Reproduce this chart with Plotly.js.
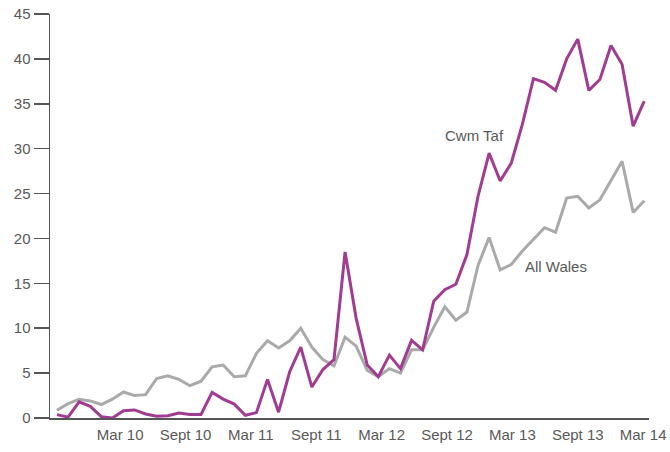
<!DOCTYPE html>
<html>
<head>
<meta charset="utf-8">
<script src="https://cdn.plot.ly/plotly-3.0.1.min.js"></script>
<style>html,body{margin:0;padding:0;background:#fff;}#chart{width:670px;height:452px;}</style>
</head>
<body>
<div id="chart"></div>
<script>
// Monthly values, Oct 2009 - Mar 2014
const months = ["Oct 09","Nov 09","Dec 09","Jan 10","Feb 10","Mar 10","Apr 10","May 10","Jun 10","Jul 10","Aug 10","Sep 10",
  "Oct 10","Nov 10","Dec 10","Jan 11","Feb 11","Mar 11","Apr 11","May 11","Jun 11","Jul 11","Aug 11","Sep 11",
  "Oct 11","Nov 11","Dec 11","Jan 12","Feb 12","Mar 12","Apr 12","May 12","Jun 12","Jul 12","Aug 12","Sep 12",
  "Oct 12","Nov 12","Dec 12","Jan 13","Feb 13","Mar 13","Apr 13","May 13","Jun 13","Jul 13","Aug 13","Sep 13",
  "Oct 13","Nov 13","Dec 13","Jan 14","Feb 14","Mar 14"];
const cwmTaf = [0.38,0.1,1.8,1.3,0.15,0.0,0.8,0.9,0.45,0.2,0.25,0.55,
  0.4,0.4,2.85,2.1,1.55,0.3,0.6,4.3,0.65,5.15,7.9,3.45,
  5.4,6.5,18.5,11.1,5.9,4.6,7.0,5.5,8.65,7.6,13.0,14.3,
  14.9,18.2,24.7,29.5,26.4,28.4,32.7,37.8,37.4,36.5,40.0,42.2,
  36.5,37.7,41.5,39.4,32.5,35.3];
const allWales = [0.86,1.6,2.09,1.9,1.5,2.1,2.9,2.5,2.6,4.4,4.7,4.3,
  3.6,4.1,5.7,5.9,4.6,4.7,7.2,8.6,7.8,8.6,10.0,7.9,
  6.5,5.8,9.0,8.0,5.3,4.6,5.5,5.0,7.6,7.6,10.1,12.4,
  10.9,11.8,17.0,20.1,16.5,17.1,18.6,19.9,21.2,20.7,24.5,24.7,
  23.4,24.3,26.5,28.6,22.9,24.2];
const tickText = ["Mar 10","Sept 10","Mar 11","Sept 11","Mar 12","Sept 12","Mar 13","Sept 13","Mar 14"];
const yTicks = [0,5,10,15,20,25,30,35,40,45];

const xIdx = months.map((m, i) => i);
const tickVals = tickText.map((t, k) => 5.7 + 5.9 * k);
const font = {family: "Liberation Sans, Arial, sans-serif", size: 15, color: "#595959"};

const traces = [
  {x: xIdx, y: allWales, text: months, type: "scatter", mode: "lines", name: "All Wales",
   line: {color: "#AAAAAA", width: 3}, hoverinfo: "text+y"},
  {x: xIdx, y: cwmTaf, text: months, type: "scatter", mode: "lines", name: "Cwm Taf",
   line: {color: "#A03C92", width: 3}, hoverinfo: "text+y"}
];

const layout = {
  width: 670, height: 452,
  margin: {l: 50, r: 21, t: 14, b: 34},
  paper_bgcolor: "#fff", plot_bgcolor: "#fff",
  showlegend: false,
  font: font,
  xaxis: {
    range: [-0.63, 53.43], showgrid: false, zeroline: false,
    showline: true, linecolor: "#555", linewidth: 1.5,
    ticks: "outside", ticklen: 2, tickcolor: "rgba(0,0,0,0)",
    tickvals: tickVals, ticktext: tickText, tickfont: font
  },
  yaxis: {
    range: [0, 45], showgrid: false, zeroline: false,
    showline: true, linecolor: "#555", linewidth: 1.5,
    ticks: "outside", ticklen: 15, tickcolor: "#555", tickwidth: 1.5,
    tickvals: yTicks, tickfont: font
  },
  annotations: [
    {x: 37.7, y: 31.5, xref: "x", yref: "y", text: "Cwm Taf", showarrow: false, font: font},
    {x: 45.0, y: 16.9, xref: "x", yref: "y", text: "All Wales", showarrow: false, font: font}
  ]
};

Plotly.newPlot("chart", traces, layout, {displayModeBar: false, staticPlot: true});
</script>
</body>
</html>
